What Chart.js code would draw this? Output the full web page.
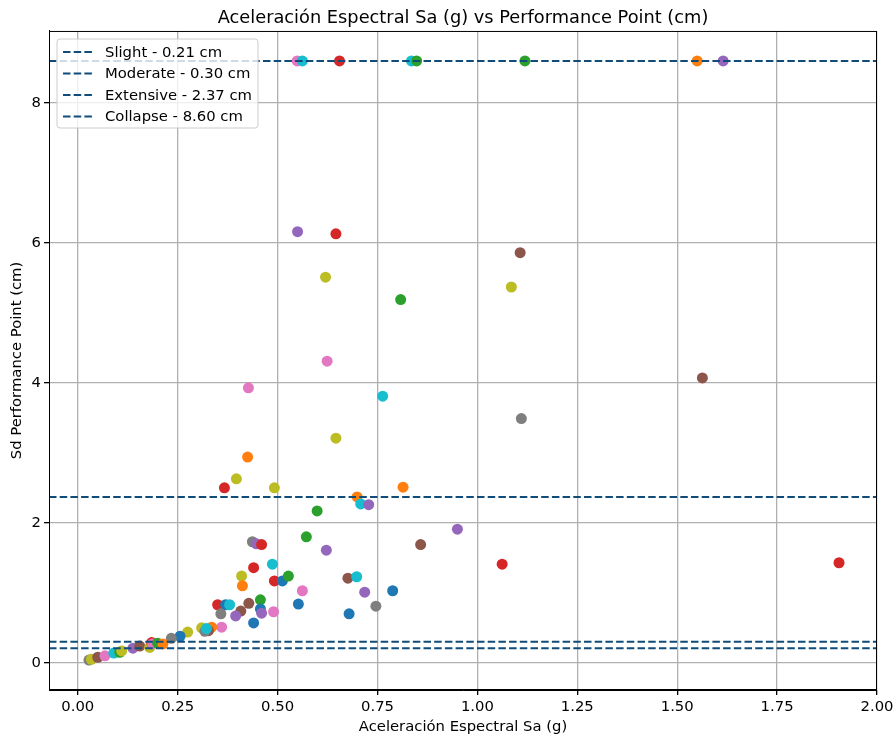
<!DOCTYPE html>
<html>
<head>
<meta charset="utf-8">
<script src="https://cdn.jsdelivr.net/npm/chart.js@4/dist/chart.umd.min.js"></script>
<style>
  body { margin: 0; background: #fff; }
  canvas { display: block; }
</style>
</head>
<body>
<canvas id="myChart" width="893" height="736"></canvas>
<script>
// damage state thresholds (cm)
const limitNames = ['Slight', 'Moderate', 'Extensive', 'Collapse'];
const limitValues = [0.21, 0.30, 2.37, 8.60];

// performance points: Sa (g), Sd (cm), marker colour
const sa = [
    0.549, 0.562, 0.655, 0.835, 0.848, 1.119, 1.55, 1.615,
    0.55, 0.646, 0.62, 0.808, 1.107, 1.085, 0.624, 0.427, 0.763, 1.563, 1.11, 0.646,
    0.425, 0.397, 0.367, 0.492, 0.699, 0.814, 0.708, 0.728, 0.599, 0.95,
    0.572, 0.622, 0.858, 0.437, 0.447, 0.46, 1.062, 1.905, 0.676, 0.698,
    0.718, 0.788, 0.746, 0.679, 0.552, 0.562, 0.487, 0.492, 0.512, 0.527,
    0.41, 0.412, 0.44, 0.457, 0.457, 0.46, 0.49, 0.428, 0.408, 0.395,
    0.44, 0.35, 0.37, 0.38, 0.358, 0.36, 0.335, 0.327, 0.31, 0.318,
    0.322, 0.275, 0.256, 0.234,
    0.028, 0.034, 0.05, 0.068, 0.09, 0.105, 0.11, 0.138, 0.155, 0.18,
    0.185, 0.187, 0.2, 0.213
];
const sd = [
    8.6, 8.6, 8.6, 8.6, 8.6, 8.6, 8.6, 8.6,
    6.16, 6.13, 5.51, 5.19, 5.86, 5.37, 4.31, 3.93, 3.81, 4.07, 3.49, 3.21,
    2.94, 2.63, 2.50, 2.50, 2.37, 2.51, 2.27, 2.26, 2.17, 1.91,
    1.80, 1.61, 1.69, 1.73, 1.70, 1.69, 1.41, 1.43, 1.21, 1.23,
    1.01, 1.03, 0.81, 0.70, 0.84, 1.03, 1.41, 1.17, 1.17, 1.24,
    1.24, 1.10, 1.36, 0.90, 0.77, 0.71, 0.73, 0.85, 0.74, 0.67,
    0.57, 0.83, 0.83, 0.83, 0.70, 0.51, 0.51, 0.46, 0.50, 0.45,
    0.49, 0.44, 0.38, 0.35,
    0.04, 0.05, 0.08, 0.10, 0.14, 0.15, 0.17, 0.21, 0.24, 0.22,
    0.29, 0.27, 0.28, 0.27
];
const tone = [
    'pink', 'cyan', 'red', 'cyan', 'green', 'green', 'orange', 'purple',
    'purple', 'red', 'olive', 'green', 'brown', 'olive', 'pink', 'pink', 'cyan', 'brown', 'gray', 'olive',
    'orange', 'olive', 'red', 'olive', 'orange', 'orange', 'cyan', 'purple', 'green', 'purple',
    'green', 'purple', 'brown', 'gray', 'purple', 'red', 'red', 'red', 'brown', 'cyan',
    'purple', 'blue', 'gray', 'blue', 'blue', 'pink', 'cyan', 'red', 'blue', 'green',
    'olive', 'orange', 'red', 'green', 'blue', 'purple', 'pink', 'brown', 'brown', 'purple',
    'blue', 'red', 'blue', 'cyan', 'gray', 'pink', 'orange', 'brown', 'olive', 'gray',
    'cyan', 'olive', 'blue', 'gray',
    'gray', 'olive', 'brown', 'pink', 'cyan', 'green', 'olive', 'purple', 'brown', 'olive',
    'red', 'pink', 'green', 'orange'
];
const xTicks = [0, 0.25, 0.5, 0.75, 1.0, 1.25, 1.5, 1.75, 2.0];
const yTicks = [0, 2, 4, 6, 8];

const palette = {
    blue: '#1f77b4', orange: '#ff7f0e', green: '#2ca02c', red: '#d62728', purple: '#9467bd',
    brown: '#8c564b', pink: '#e377c2', gray: '#7f7f7f', olive: '#bcbd22', cyan: '#17becf'
};
const lineColor = '#0f4c7a';
const font = 'DejaVu Sans';
const xMin = -0.072, xMax = 2.0, yMin = -0.388, yMax = 9.028;

const limitSets = limitValues.map((v, i) => ({
    type: 'line',
    label: limitNames[i] + ' - ' + v.toFixed(2) + ' cm',
    data: [{x: xMin, y: v}, {x: xMax, y: v}],
    borderColor: lineColor,
    borderWidth: 2,
    borderDash: [7.5, 3.2],
    pointRadius: 0,
    showLine: true,
    fill: false
}));

const frameAndLegend = {
    id: 'frameAndLegend',
    afterDraw(chart) {
        const c = chart.ctx, a = chart.chartArea;
        c.save();
        c.strokeStyle = '#000';
        c.lineWidth = 1;
        c.strokeRect(a.left + 0.5, a.top + 0.5, a.right - a.left - 1, a.bottom - a.top - 1);

        // legend box in the upper left corner
        const bx = 57, by = 39, bw = 201, bh = 89, r = 3;
        c.beginPath();
        c.moveTo(bx + r, by);
        c.arcTo(bx + bw, by, bx + bw, by + bh, r);
        c.arcTo(bx + bw, by + bh, bx, by + bh, r);
        c.arcTo(bx, by + bh, bx, by, r);
        c.arcTo(bx, by, bx + bw, by, r);
        c.closePath();
        c.fillStyle = 'rgba(255,255,255,0.8)';
        c.fill();
        c.strokeStyle = '#cccccc';
        c.stroke();

        c.font = '14.8px "' + font + '"';
        c.textBaseline = 'middle';
        c.fillStyle = '#000';
        limitSets.forEach((s, i) => {
            const y = 52 + i * 21.5;
            c.strokeStyle = lineColor;
            c.lineWidth = 2;
            c.setLineDash([7.5, 3.2]);
            c.beginPath();
            c.moveTo(63, y);
            c.lineTo(93, y);
            c.stroke();
            c.setLineDash([]);
            c.fillText(s.label, 105, y + 1);
        });
        c.restore();
    }
};

const ctx = document.getElementById('myChart').getContext('2d');
const myChart = new Chart(ctx, {
    type: 'scatter',
    data: {
        datasets: [
            ...limitSets,
            {
                label: 'Performance Point',
                data: sa.map((v, i) => ({x: v, y: sd[i]})),
                pointBackgroundColor: tone.map(t => palette[t]),
                pointBorderWidth: 0,
                pointRadius: 5.5,
                showLine: false
            }
        ]
    },
    options: {
        responsive: false,
        animation: false,
        devicePixelRatio: 1,
        layout: { padding: { left: 0, right: 16, top: 0, bottom: 0 } },
        plugins: {
            legend: { display: false },
            tooltip: { enabled: false },
            title: {
                display: true,
                fullSize: false,
                text: 'Aceleración Espectral Sa (g) vs Performance Point (cm)',
                color: '#000',
                font: { family: font, size: 17.8, weight: 'normal' },
                padding: { top: 8, bottom: 1.6 }
            }
        },
        scales: {
            x: {
                type: 'linear',
                min: xMin,
                max: xMax,
                afterBuildTicks: s => { s.ticks = xTicks.map(v => ({value: v})); },
                afterFit: s => { s.height = 46; s.paddingLeft = 0; s.paddingRight = 0; },
                ticks: {
                    color: '#000',
                    font: { family: font, size: 14.8 },
                    padding: 3,
                    maxRotation: 0,
                    callback: v => v.toFixed(2)
                },
                grid: { color: '#b0b0b0', lineWidth: 1.3, tickColor: '#000', tickLength: 5 },
                border: { display: true, color: '#000', width: 1 },
                title: {
                    display: true,
                    text: 'Aceleración Espectral Sa (g)',
                    color: '#000',
                    font: { family: font, size: 14.8 },
                    padding: { top: 2, bottom: 0 }
                }
            },
            y: {
                type: 'linear',
                min: yMin,
                max: yMax,
                afterBuildTicks: s => { s.ticks = yTicks.map(v => ({value: v})); },
                afterFit: s => { s.width = 49; s.paddingTop = 0; s.paddingBottom = 0; },
                ticks: {
                    color: '#000',
                    font: { family: font, size: 14.8 },
                    padding: 3,
                    callback: v => String(v)
                },
                grid: { color: '#b0b0b0', lineWidth: 1.3, tickColor: '#000', tickLength: 5 },
                border: { display: true, color: '#000', width: 1 },
                title: {
                    display: true,
                    text: 'Sd Performance Point (cm)',
                    color: '#000',
                    font: { family: font, size: 14.8 },
                    padding: { top: 8, bottom: 2 }
                }
            }
        }
    },
    plugins: [frameAndLegend]
});
</script>
</body>
</html>
